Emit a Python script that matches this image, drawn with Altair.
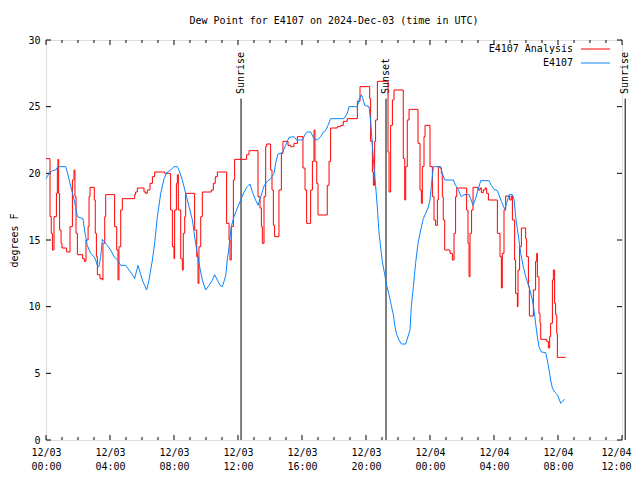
import altair as alt
import pandas as pd

chart_title = "Dew Point for E4107 on 2024-Dec-03 (time in UTC)"
y_title = "degrees F"
series_names = ["E4107 Analysis", "E4107"]
series_colors = ["#ff0000", "#0a84ff"]

# hours since 12/03 00:00 UTC (step-after values) - analysis
analysis_hours = [0, 0.25, 0.33, 0.40, 0.50, 0.65, 0.71, 0.75, 0.79, 0.85, 0.94, 1.0, 1.29, 1.5, 1.65, 1.75, 1.81,
                  1.875, 1.96, 2.29, 2.4, 2.5, 2.63, 2.69, 2.75, 3.02, 3.08, 3.15, 3.21, 3.375, 3.52, 3.56, 3.67,
                  3.73, 4.29, 4.42, 4.5, 4.56, 4.67, 4.77, 5.54, 5.6, 5.71, 6.125, 6.23, 6.33, 6.5, 6.65, 6.79,
                  7.42, 7.79, 7.9, 8.0, 8.04, 8.15, 8.21, 8.27, 8.42, 8.52, 8.58, 8.67, 8.73, 9.29, 9.42, 9.5,
                  9.56, 9.67, 9.77, 10.33, 10.46, 10.58, 10.71, 11.29, 11.44, 11.5, 11.58, 11.71, 11.79, 12.54,
                  12.69, 13.25, 13.375, 13.46, 13.52, 13.625, 13.73, 13.79, 14.04, 14.125, 14.21, 14.29, 14.56,
                  14.71, 14.81, 15.125, 15.29, 15.5, 15.71, 16.06, 16.19, 16.29, 16.54, 16.65, 16.75, 16.81,
                  16.92, 17.0, 17.58, 17.69, 17.79, 18.21, 18.42, 18.58, 18.83, 19.46, 19.625, 20.23, 20.29,
                  20.4, 20.46, 20.54, 20.6, 20.71, 21.375, 21.44, 21.54, 21.65, 21.75, 22.33, 22.42, 22.48,
                  22.58, 22.69, 23.25, 23.375, 23.46, 23.52, 23.625, 23.69, 24.0, 24.15, 24.25, 24.35, 24.46,
                  24.52, 24.625, 24.71, 24.77, 24.83, 24.92, 25.25, 25.4, 25.5, 25.6, 25.67, 26.29, 26.375,
                  26.44, 26.5, 26.6, 26.69, 27.0, 27.125, 27.21, 27.33, 27.44, 27.54, 27.65, 28.21, 28.375,
                  28.46, 28.52, 28.625, 28.73, 28.98, 29.08, 29.15, 29.29, 29.35, 29.46, 29.5, 29.6, 29.71,
                  29.98, 30.04, 30.15, 30.21, 30.46, 30.6, 30.67, 30.71, 30.81, 30.875, 30.92, 31.29, 31.4,
                  31.48, 31.54, 31.65, 31.71, 31.79, 31.85, 31.92, 31.96, 32.48]
analysis_values = [21.1, 16.75, 15.5, 14.25, 16.75, 18.5, 20.4, 21.05, 18.5, 15.75, 14.75, 14.4, 14.1, 16.0, 19.5,
                   20.25, 18.25, 15.5, 13.9, 13.6, 13.4, 15.0, 16.0, 18.25, 18.95, 18.0, 15.5, 13.75, 12.4, 12.1,
                   12.0, 14.75, 16.75, 18.4, 16.0, 14.25, 12.0, 14.5, 17.25, 18.1, 18.4, 18.6, 18.9, 18.6, 18.5,
                   18.75, 19.25, 19.75, 20.1, 20.0, 17.25, 14.5, 13.6, 17.25, 19.25, 19.9, 17.25, 13.6, 12.75,
                   15.5, 16.75, 18.5, 15.75, 13.75, 11.75, 14.5, 16.75, 18.6, 18.75, 19.25, 19.75, 20.1, 16.25,
                   15.0, 13.5, 16.0, 19.5, 21.05, 21.4, 21.7, 18.25, 17.4, 16.0, 14.75, 18.25, 22.0, 22.2, 20.25,
                   18.75, 16.1, 15.25, 18.75, 21.5, 22.4, 22.1, 22.0, 22.25, 22.75, 20.4, 18.75, 16.25, 18.75,
                   20.9, 23.25, 20.9, 19.25, 16.875, 19.1, 20.9, 23.4, 23.5, 23.6, 23.9, 24.1, 25.4, 26.5, 25.6,
                   22.4, 20.1, 19.1, 22.4, 24.0, 26.9, 21.6, 18.6, 23.6, 25.5, 26.25, 21.1, 18.0, 20.5, 24.0,
                   24.8, 22.25, 18.75, 17.75, 20.5, 22.75, 23.6, 20.5, 18.25, 16.5, 16.1, 18.0, 20.5, 20.4, 20.0,
                   18.25, 16.5, 14.25, 14.0, 13.5, 15.5, 18.25, 18.9, 17.25, 14.75, 12.25, 15.5, 17.25, 18.95,
                   18.75, 18.9, 18.55, 18.75, 18.9, 18.5, 18.0, 15.5, 13.75, 11.4, 14.0, 17.25, 18.3, 18.0, 18.3,
                   16.5, 13.5, 11.0, 10.0, 12.75, 14.5, 15.9, 15.1, 13.75, 11.5, 9.3, 11.25, 13.4, 14.0, 12.25,
                   9.5, 8.75, 7.55, 7.4, 6.9, 7.75, 8.75, 12.0, 12.75, 10.25, 9.4, 8.0, 6.2, 6.2]

# observed station values
obs_hours = [0, 0.19, 0.4, 0.6, 0.75, 1.23, 1.33, 1.5, 1.71, 1.85, 1.96, 2.31, 2.375, 2.48, 2.58, 2.79, 3.0, 3.1,
             3.21, 3.31, 3.42, 3.52, 3.83, 4.04, 4.25, 4.46, 4.67, 4.98, 5.19, 5.4, 5.54, 5.75, 6.02, 6.29, 6.44,
             6.65, 6.79, 6.96, 7.17, 7.375, 7.58, 7.79, 8.0, 8.21, 8.31, 8.52, 8.73, 8.94, 9.15, 9.35, 9.56,
             9.77, 9.98, 10.19, 10.4, 10.54, 10.71, 10.875, 11.02, 11.23, 11.33, 11.44, 11.58, 11.75, 11.96,
             12.17, 12.375, 12.58, 12.75, 12.9, 13.1, 13.25, 13.42, 13.625, 13.83, 14.04, 14.25, 14.35, 14.5,
             14.77, 14.98, 15.19, 15.5, 15.67, 16.02, 16.23, 16.33, 16.54, 16.75, 16.96, 17.17, 17.33, 17.48,
             17.625, 17.79, 18.625, 18.83, 18.94, 19.46, 19.56, 19.71, 19.83, 19.92, 20.19, 20.29, 20.4, 20.5,
             20.6, 20.71, 20.81, 20.92, 21.02, 21.17, 21.29, 21.44, 21.58, 21.71, 21.81, 21.92, 22.06, 22.21,
             22.48, 22.75, 22.83, 22.96, 23.1, 23.25, 23.42, 23.58, 23.73, 23.875, 24.0, 24.08, 24.21, 24.67,
             24.77, 24.92, 25.46, 25.6, 25.75, 25.96, 26.125, 26.44, 26.54, 26.69, 26.85, 27.0, 27.17, 27.69,
             27.83, 28.0, 28.21, 28.31, 28.46, 28.67, 28.79, 28.94, 29.15, 29.25, 29.35, 29.5, 29.67, 29.83,
             29.98, 30.19, 30.4, 30.5, 30.6, 30.71, 30.81, 30.96, 31.23, 31.33, 31.44, 31.54, 31.65, 31.79,
             31.96, 32.17, 32.27, 32.42]
obs_values = [19.6, 20.0, 20.2, 20.25, 20.5, 20.5, 20.1, 19.25, 18.25, 17.5, 16.75, 16.6, 16.0, 15.25, 14.6, 14.0,
              13.75, 13.5, 13.1, 13.0, 13.75, 15.05, 14.6, 14.25, 13.75, 13.5, 13.1, 13.1, 12.75, 12.4, 12.1,
              13.1, 12.0, 11.25, 12.0, 13.5, 14.75, 16.75, 18.5, 19.6, 20.1, 20.25, 20.5, 20.5, 20.25, 19.5,
              18.5, 17.5, 16.5, 14.75, 13.25, 12.0, 11.25, 11.6, 12.0, 12.4, 12.0, 11.6, 11.5, 12.3, 13.5,
              14.5, 16.0, 16.75, 17.4, 18.0, 18.6, 19.0, 19.2, 18.6, 18.0, 17.6, 18.25, 19.05, 19.4, 19.6, 20.0,
              20.75, 21.45, 21.55, 22.1, 22.7, 22.75, 22.5, 22.5, 23.0, 23.1, 23.1, 22.6, 22.5, 22.75, 23.1,
              23.2, 23.6, 24.1, 24.1, 24.5, 25.0, 25.0, 25.5, 25.9, 25.5, 25.1, 25.0, 23.9, 22.1, 20.4, 19.1,
              17.4, 15.6, 14.4, 13.4, 12.4, 11.6, 10.9, 10.1, 9.4, 8.5, 7.9, 7.5, 7.2, 7.2, 8.25, 10.0, 11.5,
              13.25, 14.75, 15.75, 16.6, 17.0, 17.4, 18.0, 19.0, 20.5, 20.5, 20.0, 19.5, 19.5, 19.1, 18.8, 18.25,
              18.4, 18.4, 18.1, 17.6, 18.1, 18.75, 19.45, 19.45, 19.1, 18.8, 18.7, 18.375, 17.9, 17.3, 17.75,
              18.4, 18.4, 18.1, 16.75, 15.5, 14.0, 13.0, 12.25, 11.5, 10.5, 9.75, 8.75, 7.75, 7.0, 6.6, 6.55,
              6.0, 5.25, 4.5, 3.9, 3.6, 3.4, 2.75, 2.9, 3.05]

sun_names = ["Sunrise", "Sunset", "Sunrise"]
sun_hours = [12.19, 21.25, 36.2]
sun_line_top = 25.6
sun_label_at = 25.95

x_major = list(range(0, 37, 4))
x_minor = [h for h in range(0, 37) if h % 4]
y_major = list(range(0, 31, 5))

FONT = "DejaVu Sans Mono"
FS = 10
W, H = 576, 400

xscale = alt.Scale(domain=[0, 36], nice=False, zero=False)
yscale = alt.Scale(domain=[0, 30], nice=False, zero=False)

label_expr = ("[datum.value < 24 ? '12/03' : '12/04', "
              "(datum.value % 24 < 10 ? '0' : '') + (datum.value % 24) + ':00']")
xaxis = alt.Axis(values=x_major, labelExpr=label_expr, ticks=False, tickSize=0, domain=False, grid=False,
                 labelFont=FONT, labelFontSize=FS, labelColor="black", labelPadding=7, labelLineHeight=14,
                 labelFlush=False, labelOverlap=False, labelBaseline="top", title=None,
                 labelOffset={"condition": {"test": "datum.value >= 36", "value": -6}, "value": 0})
yaxis = alt.Axis(values=y_major, ticks=False, tickSize=0, domain=False, grid=False,
                 labelFont=FONT, labelFontSize=FS, labelColor="black", labelPadding=6,
                 title=y_title, titleFont=FONT, titleFontSize=FS, titleFontWeight="normal",
                 titleColor="black", titleAngle=270, titleX=-32, titleY=200,
                 titleAlign="center", titleBaseline="middle")

X = alt.X("h:Q", scale=xscale, axis=xaxis)
Y = alt.Y("v:Q", scale=yscale, axis=yaxis)

ana_df = pd.DataFrame({"h": analysis_hours, "v": analysis_values})
obs_df = pd.DataFrame({"h": obs_hours, "v": obs_values})
sun_df = pd.DataFrame({"h": sun_hours, "name": sun_names,
                       "v": [sun_label_at] * len(sun_hours),
                       "top": [sun_line_top] * len(sun_hours), "zero": [0] * len(sun_hours)})

layers = []

# x ticks (bottom and top, major and minor)
xmaj_df = pd.DataFrame({"h": x_major})
xmin_df = pd.DataFrame({"h": x_minor})
for df, ln in ((xmaj_df, 5), (xmin_df, 3)):
    layers.append(alt.Chart(df).mark_rule(color="black", strokeWidth=1).encode(
        x=X, y=alt.value(H), y2=alt.value(H - ln)))
    layers.append(alt.Chart(df).mark_rule(color="black", strokeWidth=1).encode(
        x=X, y=alt.value(0), y2=alt.value(ln)))
ymaj_df = pd.DataFrame({"v": y_major})
layers.append(alt.Chart(ymaj_df).mark_rule(color="black", strokeWidth=1).encode(
    y=Y, x=alt.value(0), x2=alt.value(5)))
layers.append(alt.Chart(ymaj_df).mark_rule(color="black", strokeWidth=1).encode(
    y=Y, x=alt.value(W - 5), x2=alt.value(W)))

# sunrise / sunset
layers.append(alt.Chart(sun_df).mark_rule(color="black", strokeWidth=1).encode(
    x=X, y=alt.Y("zero:Q", scale=yscale, axis=yaxis), y2="top:Q"))
layers.append(alt.Chart(sun_df).mark_text(font=FONT, fontSize=FS, angle=270, align="left",
                                          baseline="middle", color="black", dx=0).encode(
    x=X, y=Y, text="name:N"))

# data
layers.append(alt.Chart(ana_df).mark_line(color=series_colors[0], strokeWidth=1,
                                          interpolate="step-after").encode(x=X, y=Y))
layers.append(alt.Chart(obs_df).mark_line(color=series_colors[1], strokeWidth=1).encode(x=X, y=Y))

# legend
for i, (nm, col) in enumerate(zip(series_names, series_colors)):
    ly = 9 + 14 * i
    ldf = pd.DataFrame({"name": [nm]})
    layers.append(alt.Chart(ldf).mark_text(font=FONT, fontSize=FS, align="right", baseline="middle",
                                           color="black").encode(
        text="name:N", x=alt.value(527), y=alt.value(ly)))
    layers.append(alt.Chart(ldf).mark_rule(color=col, strokeWidth=1).encode(
        x=alt.value(535), x2=alt.value(564), y=alt.value(ly)))

chart = alt.layer(*layers).properties(
    width=W, height=H,
    title=alt.TitleParams(text=chart_title, font=FONT, fontSize=FS, fontWeight="normal",
                          anchor="middle", color="black", offset=9),
    padding={"left": 38, "top": 32, "right": 10, "bottom": 30},
    autosize=alt.AutoSizeParams(type="none"),
).configure_view(stroke="black", strokeWidth=1).configure(background="white")

chart.save("out.html", embed_options={"renderer": "svg", "actions": False})
